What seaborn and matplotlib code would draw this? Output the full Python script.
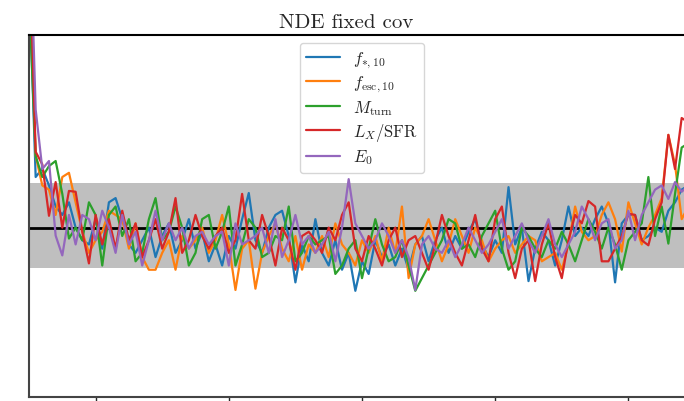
import numpy as np
import pandas as pd
import matplotlib
matplotlib.use("Agg")
import matplotlib.pyplot as plt
import seaborn as sns

labels = [r"$f_{*,10}$", r"$f_{\rm esc,10}$", r"$M_{\rm turn}$", r"$L_X/{\rm SFR}$", r"$E_0$"]

f_star = [6.0, 1.2, 1.4, 1.0, 0.5, 0.3, 0.6, 0.0, -0.3, -0.4,
          0.2, -0.5, 0.6, 0.7, 0.2, -0.4, -0.6, -0.3, 0.0, -0.7,
          -0.2, 0.1, -0.6, -0.3, 0.2, -0.5, -0.1, -0.8, -0.4, -0.9,
          -0.2, -0.5, 0.2, 0.82, -0.3, -0.6, 0.0, 0.3, 0.4, -0.2,
          -1.3, -0.4, -0.8, 0.2, -0.6, -0.9, -0.3, -1.0, -0.6, -1.5,
          -0.8, -1.1, -0.3, -0.7, -0.4, -0.9, -0.5, -1.0, -0.4, -0.2,
          -0.8, -0.3, 0.0, -0.6, -0.2, -0.5, -0.1, 0.2, -0.4, -0.7,
          -0.3, -0.6, 0.96, -0.4, 0.0, -1.27, -0.5, -0.1, -0.3, -0.9,
          -0.3, 0.5, -0.2, 0.0, -0.2, 0.2, 0.5, 0.1, -1.3, 0.1,
          0.3, 0.3, -0.3, -0.2, 0.0, -0.1, 0.4, 0.6, 0.9, 1.0]

f_esc = [6.5, 1.7, 1.0, 0.9, 0.3, 1.2, 1.3, 0.6, -0.1, -0.6,
         -0.3, -0.1, 0.4, 0.3, 0.2, -0.5, 0.1, -0.7, -1.0, -1.0,
         -0.6, -0.3, -1.0, -0.2, -0.5, -0.3, 0.0, -0.6, -0.3, 0.3,
         -0.4, -1.48, -0.5, -0.3, -1.45, -0.6, -0.2, 0.1, -0.5, -0.8,
         -0.2, -1.0, -0.4, -0.6, -0.2, -0.7, 0.1, -0.4, -0.6, -0.9,
         -0.3, -0.6, -0.2, -0.8, 0.0, -0.6, 0.5, -1.2, -0.4, -0.2,
         0.2, -0.3, -0.8, -0.4, 0.2, -0.2, -0.6, 0.0, -0.3, -0.8,
         -0.5, -0.3, -0.2, -0.6, -0.4, -0.2, -0.3, -0.8, -0.7, -0.6,
         -1.0, -0.4, 0.5, -0.1, -0.3, -0.2, 0.3, 0.6, 0.2, -0.57,
         0.6, 0.1, -0.4, 0.0, 0.3, 0.7, 2.2, 1.5, 0.2, 0.5]

m_turn = [5.5, 1.7, 1.2, 1.46, 1.58, 0.8, -0.26, 0.0, -0.3, 0.6,
          0.3, -0.9, 0.3, 0.5, -0.2, 0.2, -0.8, -0.6, 0.2, 0.7,
          -0.3, -0.1, 0.5, 0.0, -0.9, -0.6, 0.2, 0.3, -0.5, -0.1,
          0.5, -0.9, -0.4, 0.2, 0.0, -0.7, -0.6, -0.2, -0.3, 0.5,
          -0.8, -0.6, -0.2, -0.4, -0.3, -0.2, -1.1, -0.9, -0.5, -0.3,
          -1.2, -0.5, 0.2, -0.4, -0.8, -0.7, -0.3, -0.9, -1.5, -1.2,
          -0.9, -0.6, -0.3, 0.2, 0.1, -0.5, -0.4, -0.7, -0.2, 0.1,
          0.4, -0.5, -1.0, -0.8, 0.0, -0.2, -0.5, -0.7, -0.3, -0.5,
          -0.1, -0.4, -0.8, -0.3, 0.2, -0.1, -0.5, 0.0, -0.4, -1.0,
          -0.3, -0.1, 0.1, 1.2, -0.2, 0.5, -0.38, 0.8, 1.9, 2.0]

lx_sfr = [7.0, 1.8, 1.5, 0.28, 1.08, 0.0, 0.87, 0.85, -0.1, -0.85,
          0.3, -0.4, 0.2, -0.5, 0.4, -0.3, 0.1, -0.7, -0.3, 0.2,
          -0.5, -0.1, 0.7, -0.6, -0.3, 0.3, -0.2, -0.5, -0.2, 0.0,
          -0.6, -0.3, 0.8, -0.3, -0.5, 0.3, -0.2, -0.9, 0.0, -0.3,
          -1.0, -0.2, -0.1, -0.3, -0.6, 0.0, -0.3, 0.3, 0.6, -0.5,
          -0.8, -0.2, -0.5, -0.9, -0.3, 0.0, -0.7, -0.3, -0.2, -0.6,
          -1.0, -0.4, 0.3, -0.2, -0.6, -0.9, -0.3, 0.3, -0.5, -0.8,
          0.2, 0.5, -0.6, -1.2, -0.5, -0.3, -1.27, -0.4, 0.1, -0.7,
          -1.2, -0.3, 0.3, 0.1, 0.63, 0.5, -0.8, -0.8, -0.5, -0.2,
          0.33, 0.3, -0.3, -0.42, 0.2, 0.6, 2.2, 1.39, 2.6, 2.5]

e_zero = [8.0, 2.8, 1.39, 1.58, -0.19, -0.66, 0.3, -0.4, 0.3, 0.2,
          -0.3, 0.4, 0.0, -0.6, 0.3, -0.4, -0.1, -0.9, -0.3, 0.4,
          -0.3, 0.1, -0.3, 0.0, -0.5, -0.2, -0.1, -0.4, -0.2, -0.1,
          -0.9, 0.1, -0.4, -0.3, -0.2, 0.0, -0.6, 0.2, -0.7, -0.3,
          0.3, -0.4, -0.2, -0.6, -0.4, -0.1, -0.8, 0.0, 1.15, 0.1,
          -0.2, -0.5, -0.3, 0.1, -0.2, -0.6, -0.3, -0.7, -1.48, -0.4,
          -0.2, -0.5, -0.6, -0.3, -0.7, -0.4, 0.0, -0.3, -0.6, -0.4,
          -0.1, 0.2, -0.5, -0.2, 0.1, -0.3, -0.6, -0.2, 0.2, -0.4,
          -0.7, -0.4, -0.1, 0.5, 0.2, -0.3, 0.1, 0.2, -0.5, -0.3,
          0.4, -0.3, 0.3, 0.6, 0.9, 1.0, 0.68, 1.08, 0.85, 1.0]

x_index = list(range(len(f_star)))
x_ticks = [10, 30, 50, 70, 90]
band_low, band_high = -0.95, 1.05

sns.set_style("white")
plt.rcParams["font.family"] = ["serif"]
plt.rcParams["font.serif"] = ["cmr10", "DejaVu Serif"]
plt.rcParams["mathtext.fontset"] = "cm"
plt.rcParams["axes.unicode_minus"] = False

series = [f_star, f_esc, m_turn, lx_sfr, e_zero]
df = pd.DataFrame({
    "x": x_index * len(series),
    "y": np.concatenate(series),
    "param": np.repeat(labels, len(x_index)),
})

fig = plt.figure(figsize=(6.84, 4.02), dpi=100)
ax = fig.add_axes([29 / 684, 4 / 402, 666 / 684, 362 / 402])

ax.axhspan(band_low, band_high, color="gray", alpha=0.5, lw=0, zorder=0)
ax.axhline(0, color="black", lw=2, zorder=1)

sns.lineplot(data=df, x="x", y="y", hue="param", hue_order=labels,
             palette=sns.color_palette("tab10", 5), lw=1.6, ax=ax,
             legend=True, zorder=2)

ax.set_xlim(0, 100)
ax.set_ylim(-4.02, 4.57)
ax.set_xticks(x_ticks)
ax.set_yticks([])
ax.set_xlabel("")
ax.set_ylabel("")
ax.tick_params(axis="x", direction="out", length=4, width=1, bottom=True,
               labelbottom=False)

for s in ["left", "bottom"]:
    ax.spines[s].set_color("#444444")
    ax.spines[s].set_linewidth(1.5)
ax.spines["top"].set_color("black")
ax.spines["top"].set_linewidth(1.5)

ax.set_title("NDE fixed cov", fontsize=15, x=0.477)
leg = ax.legend(loc="upper center", fontsize=12, frameon=True,
                labelspacing=0.25, borderaxespad=0.45)
leg.set_title(None)

fig.savefig("out.png", dpi=100)
